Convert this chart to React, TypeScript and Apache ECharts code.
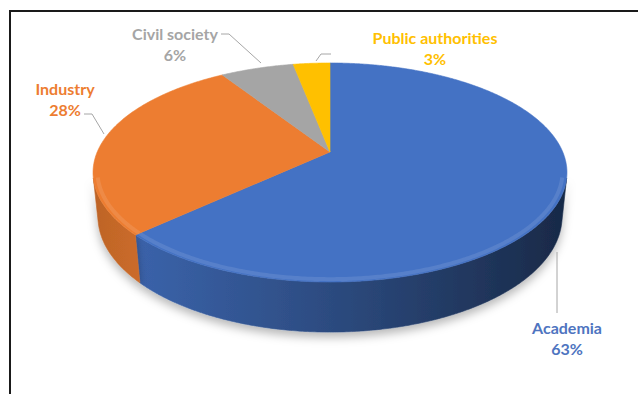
import React, { useEffect, useRef } from "react";
import * as echarts from "echarts";

const categories = ["Academia", "Industry", "Civil society", "Public authorities"];
const shares = [63, 28, 6, 3];

const topColors = ["#4472C4", "#ED7D31", "#A5A5A5", "#FFC000"];
const labelColors = ["#4E74C0", "#ED7D31", "#A5A5A5", "#FFC000"];
// label block centres and leader lines (styling/layout only)
const labelPos = [
  [567, 338],
  [65, 99],
  [175, 44],
  [435, 48],
];
const leaders = [
  [[557, 252], [557, 313]],
  [[84, 114], [92, 114], [104, 134]],
  [[221, 34], [229, 34], [261, 63]],
  [[316, 61], [321, 54], [331, 54]],
];

// perspective parameters
const CX = 330;
const CY = 152;
const F = 1108;
const D = 4.76;
const SA = 0.454;
const CA = 0.891;
const H = 0.214;

function proj(theta: number, y: number, r = 1): number[] {
  const X = Math.sin(theta) * r;
  const Z = Math.cos(theta) * r;
  const up = Z * SA + y * CA;
  const depth = D + Z * CA - y * SA;
  return [CX + (F * X) / depth, CY - (F * up) / depth];
}

function shade(hex: string, k: number): string {
  const n = parseInt(hex.slice(1), 16);
  const r = Math.round(((n >> 16) & 255) * k);
  const g = Math.round(((n >> 8) & 255) * k);
  const b = Math.round((n & 255) * k);
  return `rgb(${r},${g},${b})`;
}

const total = shares.reduce((a, b) => a + b, 0);
const cum: number[] = [];
shares.reduce((acc, v, i) => {
  cum[i] = acc;
  return acc + v;
}, 0);
const seriesData = shares.map((v, i) => ({
  name: categories[i],
  value: [v, cum[i], total],
}));

const visMin = Math.acos(-1 / (D * CA));
const visMax = 2 * Math.PI - visMin;

function renderItem(params: any, api: any) {
  const i = params.dataIndex;
  const v = api.value(0);
  const start = api.value(1);
  const tot = api.value(2);
  const t0 = (start / tot) * 2 * Math.PI;
  const t1 = ((start + v) / tot) * 2 * Math.PI;
  const step = Math.PI / 360;
  const children: any[] = [];
  const base = topColors[i];

  // outer wall
  const a = Math.max(t0, visMin);
  const b = Math.min(t1, visMax);
  if (b > a) {
    const pts: number[][] = [];
    for (let t = a; t < b; t += step) pts.push(proj(t, 0));
    pts.push(proj(b, 0));
    const bot: number[][] = [];
    for (let t = a; t < b; t += step) bot.push(proj(t, -H));
    bot.push(proj(b, -H));
    const poly = pts.concat(bot.reverse());
    const grad = new echarts.graphic.LinearGradient(
      95,
      0,
      567,
      0,
      [
        { offset: 0, color: shade(base, 0.8) },
        { offset: 0.1, color: shade(base, 0.86) },
        { offset: 0.45, color: shade(base, 0.68) },
        { offset: 0.8, color: shade(base, 0.48) },
        { offset: 1, color: shade(base, 0.36) },
      ],
      true
    );
    children.push({
      type: "polygon",
      shape: { points: poly },
      style: {
        fill: grad,
        stroke: grad,
        lineWidth: 0.6,
        shadowBlur: 10,
        shadowOffsetY: 5,
        shadowColor: "rgba(0,0,0,0.28)",
      },
    });
  }

  // top face
  const top: number[][] = [[CX, CY]];
  for (let t = t0; t < t1; t += step) top.push(proj(t, 0));
  top.push(proj(t1, 0));
  children.push({
    type: "polygon",
    shape: { points: top },
    style: { fill: base, stroke: base, lineWidth: 0.6 },
  });

  // soft bevel highlight along the front rim
  if (b > a) {
    const hl: number[][] = [];
    for (let t = a; t < b; t += step) hl.push(proj(t, 0, 0.982));
    hl.push(proj(b, 0, 0.982));
    children.push({
      type: "polyline",
      shape: { points: hl },
      style: { stroke: "rgba(255,255,255,0.1)", lineWidth: 4, fill: null },
    });
  }

  return { type: "group", children };
}

export default function App() {
  const ref = useRef<HTMLDivElement>(null);

  useEffect(() => {
    if (!ref.current) return;
    const chart = echarts.init(ref.current, undefined, { renderer: "svg" });

    const graphics: any[] = [
      {
        type: "line",
        shape: { x1: 9, y1: 11, x2: 638, y2: 11 },
        style: { stroke: "#1a1a1a", lineWidth: 2 },
        z: 10,
      },
      {
        type: "line",
        shape: { x1: 10, y1: 10, x2: 10, y2: 394 },
        style: { stroke: "#1a1a1a", lineWidth: 2 },
        z: 10,
      },
    ];
    leaders.forEach((pts) => {
      graphics.push({
        type: "polyline",
        shape: { points: pts },
        style: { stroke: "#A6A6A6", lineWidth: 1, fill: null },
        z: 10,
      });
    });
    categories.forEach((c, i) => {
      graphics.push({
        type: "text",
        x: labelPos[i][0],
        y: labelPos[i][1],
        z: 10,
        style: {
          text: `${c}\n${shares[i]}%`,
          fill: labelColors[i],
          fontFamily: "Lato, 'Open Sans', sans-serif",
          fontWeight: "bold",
          fontSize: 16,
          lineHeight: 21,
          align: "center",
          verticalAlign: "middle",
        },
      });
    });

    chart.setOption({
      animation: false,
      backgroundColor: "#ffffff",
      graphic: graphics,
      series: [
        {
          type: "custom",
          coordinateSystem: "none",
          renderItem,
          data: seriesData,
        },
      ],
    });

    return () => chart.dispose();
  }, []);

  return (
    <div
      ref={ref}
      style={{ position: "fixed", left: 0, top: 0, width: 638, height: 394, background: "#fff" }}
    />
  );
}
